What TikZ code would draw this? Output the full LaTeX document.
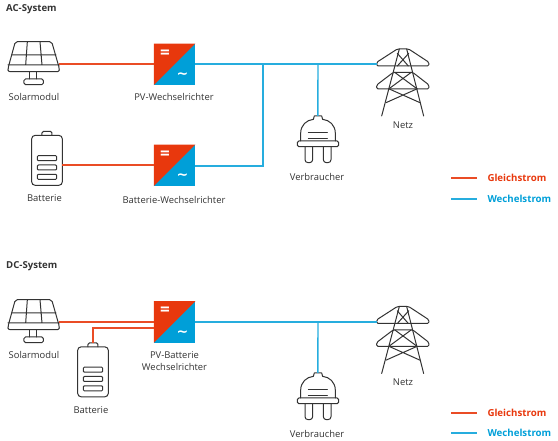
\documentclass[tikz,border=0pt]{standalone}
\usepackage{fontspec}
\setmainfont{Open Sans}
\newfontfamily\symfont{DejaVu Sans}
\definecolor{dcred}{HTML}{E8380D}
\definecolor{acblue}{HTML}{009FD8}
\definecolor{ink}{HTML}{333333}
\tikzset{
  x=1pt,y=-1pt,
  icon/.style={draw=ink,line width=1pt,line join=round,line cap=round,fill=none},
  dcline/.style={draw=dcred!90!white,line width=1.4pt},
  acline/.style={draw=acblue!85!white,line width=1.4pt},
  lbl/.style={text=ink,font=\fontsize{9.4}{12}\selectfont,align=center,inner sep=0pt},
  head/.style={text=ink,font=\fontsize{9.6}{12}\selectfont\bfseries,anchor=west,inner sep=0pt},
  legd/.style={font=\fontsize{9.7}{12}\selectfont\bfseries,anchor=west,inner sep=0pt},
  inv/.style={rectangle,minimum size=41.5pt,inner sep=0pt,
    path picture={
      \fill[acblue] (path picture bounding box.south west) rectangle (path picture bounding box.north east);
      \fill[dcred] (path picture bounding box.south west) -- (path picture bounding box.north west) -- (path picture bounding box.north east) -- cycle;
    }},
  eqsym/.style={text=white,font=\fontsize{17}{17}\selectfont\bfseries,inner sep=0pt},
  acsym/.style={text=white,font=\symfont\fontsize{14}{14}\selectfont\bfseries,inner sep=0pt},
  solar/.pic={
    \begin{scope}[scale=1/3]
      \draw[icon,rounded corners=2pt] (46,125)--(155,125)--(178,205)--(178,215)--(24,215)--(24,205)--cycle;
      \draw[icon] (24,195)--(178,195) (35,165)--(168,165) (82,125)--(77,195) (120,125)--(126,195);
      \draw[icon] (90,215)--(90,237) (110,215)--(110,237);
      \draw[icon,rounded corners=1.5pt] (72,237) rectangle (130,254);
      \coordinate (-e) at (178,192);
    \end{scope}
  },
  battery/.pic={
    \begin{scope}[scale=1/3]
      \draw[icon,rounded corners=3.5pt] (95,406) rectangle (187,556);
      \draw[icon,rounded corners=1.5pt] (126,406)--(126,394)--(156,394)--(156,406);
      \draw[icon,rounded corners=1pt] (112,467) rectangle (170,482) (112,495) rectangle (170,510) (112,523) rectangle (170,538);
      \coordinate (-e) at (187,495);
      \coordinate (-t) at (141,394);
    \end{scope}
  },
  plug/.pic={
    \begin{scope}[scale=1/3]
      \draw[icon] (62,333)--(62,310) .. controls (62,285) and (80,270) .. (100,268)--(103,258)--(125,258)--(128,268) .. controls (148,270) and (166,285) .. (166,310)--(166,333);
      \draw[icon,rounded corners=1.5pt] (52,333) rectangle (176,350);
      \draw[icon] (85,308)--(142,308) (85,327)--(142,327);
      \draw[icon,rounded corners=3pt] (75,350)--(75,398)--(98,398)--(98,350);
      \draw[icon,rounded corners=3pt] (130,350)--(130,398)--(153,398)--(153,350);
      \coordinate (-t) at (113.5,258);
    \end{scope}
  },
  tower/.pic={
    \begin{scope}[scale=1/3]
      \draw[icon,rounded corners=1.5pt] (352,57)--(386,57)--(447,97)--(447,108)--(290,108)--(290,97)--cycle;
      \draw[icon,rounded corners=1.5pt] (340,127)--(398,127)--(447,165)--(447,177)--(290,177)--(290,165)--cycle;
      \draw[icon] (358,57)--(305,258) (380,57)--(431,258);
      \draw[icon] (352,70)--(385,108) (386,70)--(352,108);
      \draw[icon] (344,127)--(412,177) (394,127)--(326,177);
      \draw[icon] (328,177)--(420,218) (410,177)--(318,218);
      \coordinate (-w) at (290,102);
    \end{scope}
  }
}
\begin{document}
\begin{tikzpicture}
\useasboundingbox (0,0) rectangle (558,441);
% ---- AC system
\node[head] (hac) at (6,9) {AC-System};
\pic (s1) at (0,0) {solar};
\pic (b1) at (0,0) {battery};
\pic (p1) at (280,30) {plug};
\pic (t1) at (280,30) {tower};
\node[inv] (i1) at (174.5,64.5) {};
\node[inv] (i2) at (174.5,165.5) {};
\node[eqsym] (i1a) at (165,54) {=};
\node[acsym] (i1b) at (182.5,76) {∼};
\node[eqsym] (i2a) at (165,155) {=};
\node[acsym] (i2b) at (182.5,177) {∼};
\node[lbl] (l1) at (34,97) {Solarmodul};
\node[lbl] (l2) at (174,97) {PV-Wechselrichter};
\node[lbl] (l3) at (44.5,198.5) {Batterie};
\node[lbl] (l4) at (174,199.5) {Batterie-Wechselrichter};
\node[lbl] (l5) at (317,177) {Verbraucher};
\node[lbl] (l6) at (403,125) {Netz};
\coordinate (j1) at (263,64);
\coordinate (j2) at (318,64);
\coordinate (i2e) at (195.3,166);
\draw[dcline] (s1-e) -- (i1.west |- s1-e);
\draw[dcline] (b1-e) -- (i2.west |- b1-e);
\draw[acline] (i1.east |- j1) -- (j1) -- (j2) -- (t1-w |- j1);
\draw[acline] (j1) |- (i2e);
\draw[acline] (j2) -- (p1-t);
\coordinate (lr1a) at (451,178); \coordinate (lr1b) at (477,178);
\coordinate (lb1a) at (451,199); \coordinate (lb1b) at (477,199);
\draw[dcline] (lr1a) -- (lr1b);
\draw[acline] (lb1a) -- (lb1b);
\node[legd,text=dcred] (g1) at (487.3,178) {Gleichstrom};
\node[legd,text=acblue] (w1) at (487.3,199) {Wechelstrom};
% ---- DC system
\node[head] (hdc) at (6,266.5) {DC-System};
\pic (s2) at (0,258) {solar};
\pic (b2) at (46,211.5) {battery};
\pic (p2) at (280,287) {plug};
\pic (t2) at (280,287.5) {tower};
\node[inv] (i3) at (174.5,322) {};
\node[eqsym] (i3a) at (165,311.5) {=};
\node[acsym] (i3b) at (182.5,333.5) {∼};
\node[lbl] (l7) at (34,355) {Solarmodul};
\node[lbl] (l8) at (174.5,361) {PV-Batterie\\Wechselrichter};
\node[lbl] (l9) at (91,410) {Batterie};
\node[lbl] (l10) at (317,434) {Verbraucher};
\node[lbl] (l11) at (403,382.5) {Netz};
\coordinate (j3) at (318,322);
\coordinate (i3w) at (153.7,328);
\draw[dcline] (s2-e) -- (i3.west |- s2-e);
\draw[dcline] (b2-t) |- (i3w);
\draw[acline] (i3.east |- j3) -- (j3) -- (t2-w |- j3);
\draw[acline] (j3) -- (p2-t);
\coordinate (lr2a) at (451,413); \coordinate (lr2b) at (477,413);
\coordinate (lb2a) at (451,433); \coordinate (lb2b) at (477,433);
\draw[dcline] (lr2a) -- (lr2b);
\draw[acline] (lb2a) -- (lb2b);
\node[legd,text=dcred] (g2) at (487.3,413) {Gleichstrom};
\node[legd,text=acblue] (w2) at (487.3,433) {Wechelstrom};
\end{tikzpicture}
\end{document}
